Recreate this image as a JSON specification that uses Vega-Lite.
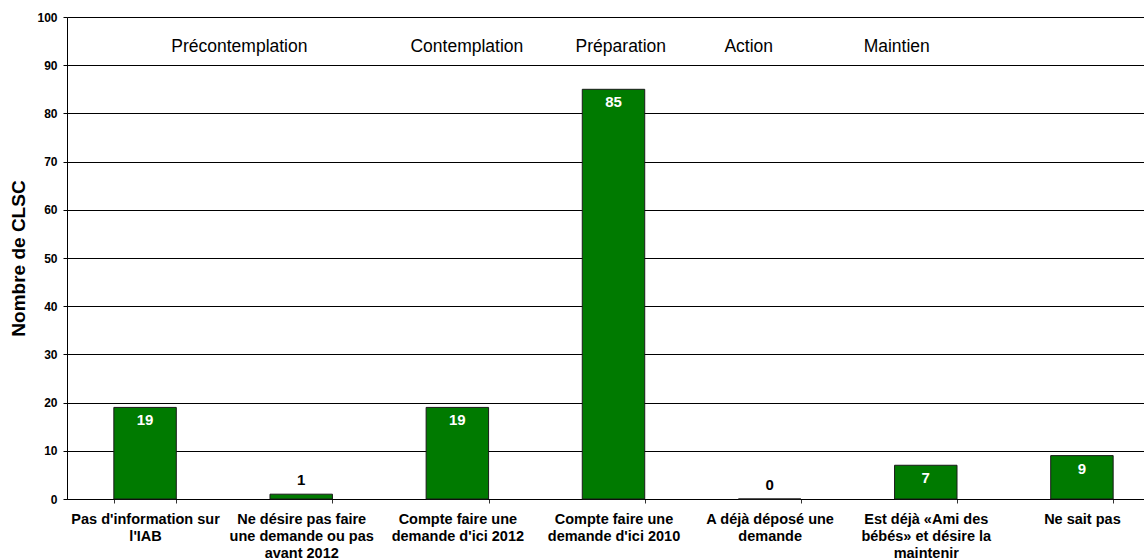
{
  "$schema": "https://vega.github.io/schema/vega-lite/v6.json",
  "autosize": {"type": "none"},
  "padding": {"left": 67, "top": 17, "right": 0, "bottom": 60},
  "width": 1077,
  "height": 482,
  "background": "white",
  "config": {
    "font": "Liberation Sans",
    "view": {"stroke": null}
  },
  "datasets": {
    "bars": [
      {"cat": "Pas d'information sur|l'IAB", "n": 19},
      {"cat": "Ne désire pas faire|une demande ou pas|avant 2012", "n": 1},
      {"cat": "Compte faire une|demande d'ici 2012", "n": 19},
      {"cat": "Compte faire une|demande d'ici 2010", "n": 85},
      {"cat": "A déjà déposé une|demande", "n": 0},
      {"cat": "Est déjà «Ami des|bébés» et désire la|maintenir", "n": 7},
      {"cat": "Ne sait pas", "n": 9}
    ],
    "stages": [
      {"stage": "Précontemplation", "pos": 1.104, "n": 93.8},
      {"stage": "Contemplation", "pos": 2.561, "n": 93.8},
      {"stage": "Préparation", "pos": 3.547, "n": 93.8},
      {"stage": "Action", "pos": 4.366, "n": 93.8},
      {"stage": "Maintien", "pos": 5.314, "n": 93.8}
    ]
  },
  "layer": [
    {
      "data": {"name": "bars"},
      "encoding": {
        "x": {
          "field": "cat",
          "type": "nominal",
          "sort": null,
          "scale": {"paddingInner": 0.6, "paddingOuter": 0.3, "range": [0, 1093]},
          "axis": {
            "title": null,
            "labelAngle": 0,
            "labelExpr": "split(datum.label, '|')",
            "labelFont": "Liberation Sans",
            "labelFontWeight": "bold",
            "labelFontSize": 14.5,
            "labelLineHeight": 17,
            "labelColor": "black",
            "labelPadding": 9,
            "labelBaseline": "top",
            "labelLimit": 250,
            "ticks": true,
            "tickBand": "extent",
            "tickSize": 4,
            "tickColor": "#333333",
            "domainColor": "black",
            "domainWidth": 1,
            "grid": false
          }
        },
        "y": {
          "field": "n",
          "type": "quantitative",
          "scale": {"domain": [0, 100], "nice": false},
          "axis": {
            "title": "Nombre de CLSC",
            "titleFont": "Liberation Sans",
            "titleFontSize": 19,
            "titleFontWeight": "bold",
            "titleColor": "black",
            "titlePadding": 8,
            "values": [0, 10, 20, 30, 40, 50, 60, 70, 80, 90, 100],
            "labelFont": "Liberation Sans",
            "labelFontWeight": "bold",
            "labelFontSize": 12,
            "labelColor": "black",
            "labelPadding": 6,
            "tickSize": 4,
            "tickColor": "black",
            "domainColor": "black",
            "grid": true,
            "gridColor": "black",
            "gridWidth": 1,
            "gridOpacity": 1
          }
        }
      },
      "layer": [
        {
          "mark": {"type": "bar", "color": "#007A00", "stroke": "#1a1a1a", "strokeWidth": 1}
        },
        {
          "transform": [{"filter": "datum.n >= 5"}],
          "mark": {"type": "text", "color": "white", "fontWeight": "bold", "fontSize": 15, "baseline": "top", "dy": 6, "font": "Liberation Sans"},
          "encoding": {"text": {"field": "n", "type": "quantitative"}}
        },
        {
          "transform": [{"filter": "datum.n < 5"}],
          "mark": {"type": "text", "color": "black", "fontWeight": "bold", "fontSize": 15, "baseline": "bottom", "dy": -6, "font": "Liberation Sans"},
          "encoding": {"text": {"field": "n", "type": "quantitative"}}
        }
      ]
    },
    {
      "data": {"name": "stages"},
      "mark": {"type": "text", "fontSize": 17.5, "color": "black", "baseline": "middle", "align": "center", "font": "Liberation Sans"},
      "encoding": {
        "x": {"field": "pos", "type": "quantitative", "scale": {"domain": [0, 7], "range": [0, 1093], "nice": false, "zero": false}, "axis": null},
        "y": {"field": "n", "type": "quantitative"},
        "text": {"field": "stage"}
      }
    }
  ],
  "resolve": {"scale": {"x": "independent"}}
}
